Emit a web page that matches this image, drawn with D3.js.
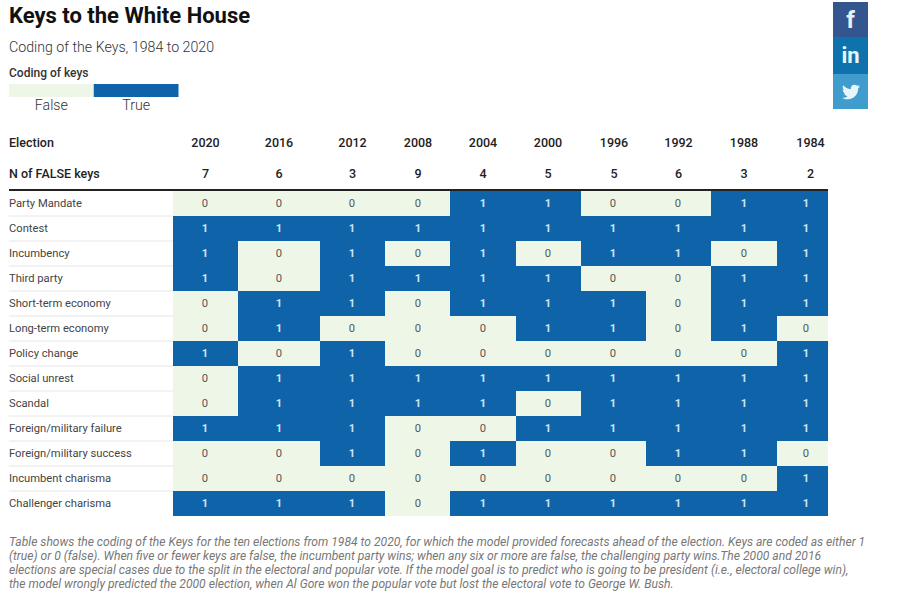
<!DOCTYPE html>
<html><head><meta charset="utf-8">
<script src="https://cdn.jsdelivr.net/npm/d3@7/dist/d3.min.js"></script>
<style>html,body{margin:0;padding:0;background:#fff;overflow:hidden}svg{display:block}text{font-family:Roboto,sans-serif}</style>
</head><body><svg id="c" width="914" height="594"></svg>
<script>
const elections=[2020,2016,2012,2008,2004,2000,1996,1992,1988,1984];
const falseCounts=[7,6,3,9,4,5,5,6,3,2];
const keyNames=["Party Mandate","Contest","Incumbency","Third party","Short-term economy","Long-term economy","Policy change","Social unrest","Scandal","Foreign/military failure","Foreign/military success","Incumbent charisma","Challenger charisma"];
const partyMandate=[0,0,0,0,1,1,0,0,1,1];
const contest=[1,1,1,1,1,1,1,1,1,1];
const incumbency=[1,0,1,0,1,0,1,1,0,1];
const thirdParty=[1,0,1,1,1,1,0,0,1,1];
const shortTerm=[0,1,1,0,1,1,1,0,1,1];
const longTerm=[0,1,0,0,0,1,1,0,1,0];
const policyChange=[1,0,1,0,0,0,0,0,0,1];
const socialUnrest=[0,1,1,1,1,1,1,1,1,1];
const scandal=[0,1,1,1,1,0,1,1,1,1];
const militaryFailure=[1,1,1,0,0,1,1,1,1,1];
const militarySuccess=[0,0,1,0,1,0,0,1,1,0];
const incumbentCharisma=[0,0,0,0,0,0,0,0,0,1];
const challengerCharisma=[1,1,1,0,1,1,1,1,1,1];
const codes=[partyMandate,contest,incumbency,thirdParty,shortTerm,longTerm,policyChange,socialUnrest,scandal,militaryFailure,militarySuccess,incumbentCharisma,challengerCharisma];
const legendLabels=["False","True"];
const noteLines=[
"Table shows the coding of the Keys for the ten elections from 1984 to 2020, for which the model provided forecasts ahead of the election. Keys are coded as either 1",
"(true) or 0 (false). When five or fewer keys are false, the incumbent party wins; when any six or more are false, the challenging party wins.The 2000 and 2016",
"elections are special cases due to the split in the electoral and popular vote. If the model goal is to predict who is going to be president (i.e., electoral college win),",
"the model wrongly predicted the 2000 election, when Al Gore won the popular vote but lost the electoral vote to George W. Bush."];

const svg=d3.select("#c");
const TRUE="#0f63a8",FALSE="#eef6e7";
const edge=d3.scaleOrdinal().domain(elections).range([173,238,320,385,450,516,581,646,711,777]);
const cellW=d3.scaleOrdinal().domain(elections).range([65,82,65,65,66,65,65,65,66,51]);
const textX=d3.scaleOrdinal().domain(elections).range([205,279,352,418,483,548,613,678,744,806]);
const headX=d3.scaleOrdinal().domain(elections).range([205.5,279,352.5,418,483,548,614,678.5,744,810.5]);
const y=d3.scaleBand().domain(keyNames).range([191,516]);
const color=d3.scaleOrdinal().domain([0,1]).range([FALSE,TRUE]);

const t=(x,yy,s,size,weight,fill,anchor,style)=>svg.append("text").attr("x",x).attr("y",yy).attr("font-size",size).attr("font-weight",weight).attr("fill",fill).attr("text-anchor",anchor||"start").attr("font-style",style||"normal").text(s);

t(9,23,"Keys to the White House",22,700,"#111");
t(9,52,"Coding of the Keys, 1984 to 2020",14.2,300,"#333");
t(9,77,"Coding of keys",12,500,"#333");

const lx=d3.scaleBand().domain(legendLabels).range([9,178.5]);
svg.selectAll("rect.lg").data(legendLabels).join("rect").attr("class","lg")
 .attr("x",d=>lx(d)).attr("y",84).attr("width",lx.bandwidth()).attr("height",13)
 .attr("fill",(d,i)=>color(i));
svg.selectAll("text.lg").data(legendLabels).join("text").attr("class","lg")
 .attr("x",d=>lx(d)+lx.bandwidth()/2).attr("y",110).attr("text-anchor","middle")
 .attr("font-size",14.2).attr("font-weight",300).attr("fill","#333").text(d=>d);

t(9,147,"Election",12.5,500,"#222");
t(9,178,"N of FALSE keys",12.5,500,"#222");
svg.selectAll("text.yr").data(elections).join("text").attr("class","yr")
 .attr("x",d=>headX(d)).attr("y",147).attr("text-anchor","middle").attr("font-size",12.5).attr("font-weight",500).attr("fill","#222").text(d=>d);
svg.selectAll("text.nf").data(falseCounts).join("text").attr("class","nf")
 .attr("x",(d,i)=>headX(elections[i])).attr("y",178).attr("text-anchor","middle").attr("font-size",12.5).attr("font-weight",500).attr("fill","#222").text(d=>d);

// row separators
svg.selectAll("line.sep").data(keyNames.slice(1)).join("line").attr("class","sep")
 .attr("x1",9).attr("x2",828).attr("y1",d=>y(d)).attr("y2",d=>y(d)).attr("stroke","#e6e6e6").attr("stroke-width",1);

const rows=svg.selectAll("g.row").data(keyNames).join("g").attr("class","row").attr("transform",d=>`translate(0,${y(d)})`);
rows.append("text").attr("x",9).attr("y",y.bandwidth()/2+3).attr("font-size",11.2).attr("fill","#444").text(d=>d);
rows.each(function(name,ri){
  const g=d3.select(this);
  const cells=codes[ri].map((v,i)=>({v,e:elections[i]}));
  g.selectAll("rect").data(cells).join("rect").attr("x",d=>edge(d.e)).attr("y",0).attr("width",d=>cellW(d.e)).attr("height",y.bandwidth()).attr("fill",d=>color(d.v));
  g.selectAll("text.v").data(cells).join("text").attr("class","v").attr("x",d=>textX(d.e)).attr("y",y.bandwidth()/2+3).attr("text-anchor","middle").attr("font-size",11.2)
   .attr("font-weight",d=>d.v?700:400).attr("fill",d=>d.v?"#cfe6f2":"#555").text(d=>d.v);
});
svg.append("rect").attr("x",9).attr("y",189).attr("width",819).attr("height",2).attr("fill","#222");

svg.selectAll("text.note").data(noteLines).join("text").attr("class","note")
 .attr("x",9).attr("y",(d,i)=>546+i*14).attr("font-size",12.1).attr("font-style","italic").attr("font-weight",400).attr("fill","#777").text(d=>d);

// share buttons
svg.append("rect").attr("x",833).attr("y",2).attr("width",35).attr("height",35).attr("fill","#34568f");
svg.append("rect").attr("x",833).attr("y",37).attr("width",35).attr("height",37).attr("fill","#0e73ad");
svg.append("rect").attr("x",833).attr("y",74).attr("width",35).attr("height",35).attr("fill","#409ccd");
t(850.5,28,"f",24,700,"#e8f1f6","middle");
t(850.5,63,"in",22,700,"#e8f6fa","middle");
svg.append("path").attr("transform","translate(842,83) scale(0.0352)").attr("fill","#e8f6fa")
 .attr("d","M459.37 151.716c.325 4.548.325 9.097.325 13.645 0 138.72-105.583 298.558-298.558 298.558-59.452 0-114.68-17.219-161.137-47.106 8.447.974 16.568 1.299 25.34 1.299 49.055 0 94.213-16.568 130.274-44.832-46.132-.975-84.792-31.188-98.112-72.772 6.498.974 12.995 1.624 19.818 1.624 9.421 0 18.843-1.3 27.614-3.573-48.081-9.747-84.143-51.98-84.143-102.985v-1.299c13.969 7.797 30.214 12.67 47.431 13.319-28.264-18.843-46.781-51.005-46.781-87.391 0-19.492 5.197-37.36 14.294-52.954 51.655 63.675 129.3 105.258 216.365 109.807-1.624-7.797-2.599-15.918-2.599-24.04 0-57.828 46.782-104.934 104.934-104.934 30.213 0 57.502 12.67 76.67 33.137 23.715-4.548 46.456-13.32 66.599-25.34-7.798 24.366-24.366 44.833-46.132 57.827 21.117-2.273 41.584-8.122 60.426-16.243-14.292 20.791-32.161 39.308-52.628 54.253z");
</script></body></html>
